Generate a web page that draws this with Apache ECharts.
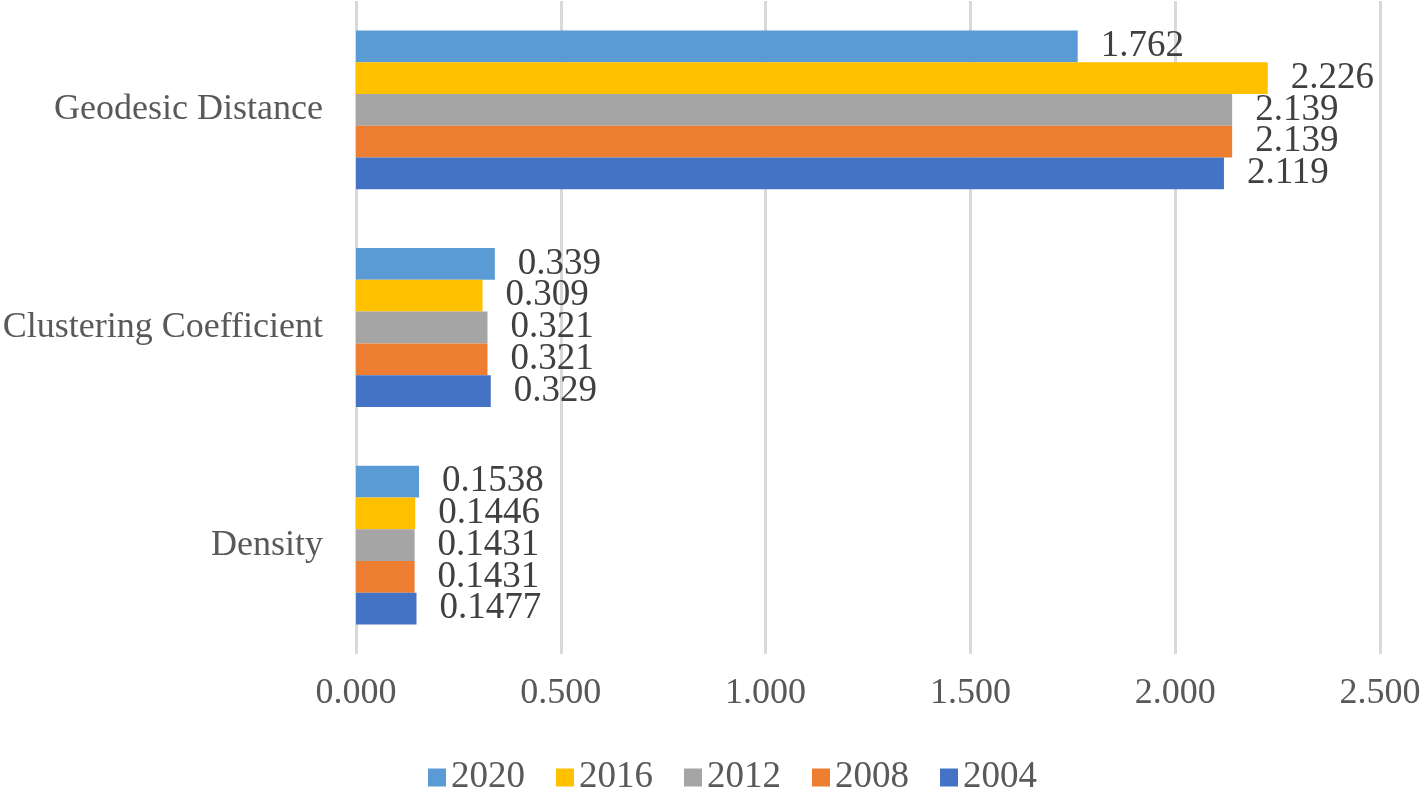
<!DOCTYPE html>
<html>
<head>
<meta charset="utf-8">
<script src="https://cdn.jsdelivr.net/npm/echarts@6/dist/echarts.min.js"></script>
<style>
  html, body { margin: 0; padding: 0; background: #fff; }
  #chart { width: 1421px; height: 796px; }
</style>
</head>
<body>
<div id="chart"></div>
<script>
// categories bottom -> top
const categories = ["Density", "Clustering Coefficient", "Geodesic Distance"];
const years = ["2020", "2016", "2012", "2008", "2004"];
const v2020 = [0.1538, 0.339, 1.762];
const v2016 = [0.1446, 0.309, 2.226];
const v2012 = [0.1431, 0.321, 2.139];
const v2008 = [0.1431, 0.321, 2.139];
const v2004 = [0.1477, 0.329, 2.119];
const xTicks = [0, 0.5, 1, 1.5, 2, 2.5];

const font = "'Times New Roman', 'Liberation Serif', serif";
const colors = {
  "2020": "#5B9BD5",
  "2016": "#FFC000",
  "2012": "#A5A5A5",
  "2008": "#ED7D31",
  "2004": "#4472C4"
};

// first series is drawn at the top of each group
const seriesData = [
  ["2020", v2020],
  ["2016", v2016],
  ["2012", v2012],
  ["2008", v2008],
  ["2004", v2004]
];

const chart = echarts.init(document.getElementById("chart"));
chart.setOption({
  animation: false,
  grid: { left: 356, right: 41, top: 1, bottom: 142, containLabel: false, outerBoundsMode: "none" },
  legend: {
    data: years,
    left: 423,
    top: 754,
    itemWidth: 18,
    itemHeight: 18,
    itemGap: 31,
    icon: "rect",
    textStyle: { fontFamily: font, fontSize: 37, color: "#595959" }
  },
  xAxis: {
    type: "value",
    min: xTicks[0],
    max: xTicks[xTicks.length - 1],
    interval: 0.5,
    axisLine: { show: false },
    axisTick: { show: false },
    splitLine: { show: true, lineStyle: { color: "#d9d9d9", width: 3 } },
    axisLabel: {
      margin: 22,
      fontFamily: font,
      fontSize: 36,
      color: "#595959",
      formatter: v => v.toFixed(3)
    }
  },
  yAxis: {
    type: "category",
    data: categories,
    axisLine: { show: false },
    axisTick: { show: false },
    axisLabel: { margin: 33, fontFamily: font, fontSize: 36, color: "#595959" }
  },
  series: seriesData.map(([name, vals]) => ({
    name,
    type: "bar",
    data: vals,
    barGap: "0%",
    barCategoryGap: "27%",
    itemStyle: { color: colors[name] },
    label: {
      show: true,
      position: "right",
      distance: 23,
      fontFamily: font,
      fontSize: 37,
      color: "#404040",
      formatter: p => String(p.value)
    }
  }))
});
</script>
</body>
</html>
